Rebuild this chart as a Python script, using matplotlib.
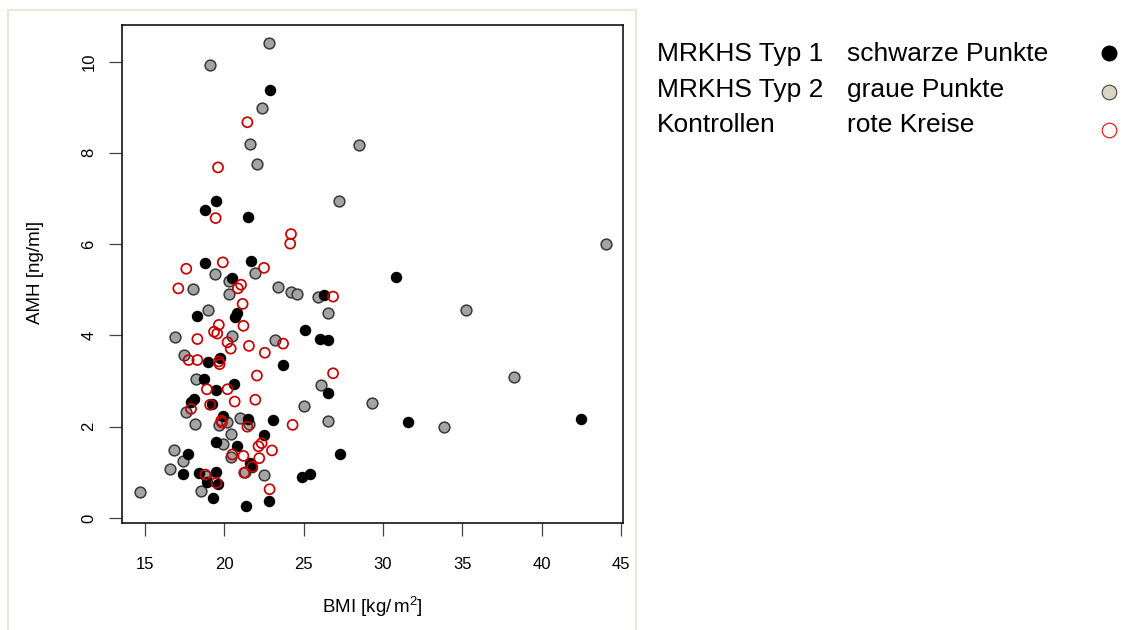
import matplotlib

matplotlib.use("Agg")
import matplotlib.pyplot as plt
from matplotlib.patches import Rectangle

plt.rcParams["font.family"] = ["Liberation Sans", "DejaVu Sans"]
plt.rcParams["mathtext.fontset"] = "custom"
plt.rcParams["mathtext.rm"] = "Liberation Sans"
plt.rcParams["mathtext.it"] = "Liberation Sans:italic"

# MRKHS Typ 1 (schwarze Punkte)
bmi_typ1 = [22.9, 19.5, 18.8, 21.5, 21.7, 18.8, 20.5, 26.3, 30.8, 20.8,
            20.65, 18.3, 25.1, 26.0, 26.5, 19.0, 19.7, 23.7, 18.7, 19.5,
            20.6, 26.5, 18.1, 17.9, 19.2, 19.9, 21.5, 23.05, 22.5, 21.6,
            21.75, 27.3, 24.9, 25.4, 21.35, 22.8, 19.45, 20.8, 17.7, 17.4,
            18.4, 19.5, 18.9, 19.6, 19.3, 31.55, 42.45]
amh_typ1 = [9.37, 6.95, 6.74, 6.59, 5.64, 5.58, 5.26, 4.89, 5.29, 4.50,
            4.40, 4.43, 4.11, 3.93, 3.90, 3.42, 3.50, 3.35, 3.05, 2.80,
            2.94, 2.74, 2.61, 2.54, 2.50, 2.23, 2.16, 2.15, 1.81, 1.20,
            1.12, 1.40, 0.89, 0.96, 0.27, 0.37, 1.66, 1.58, 1.40, 0.96,
            0.98, 1.00, 0.79, 0.75, 0.43, 2.10, 2.17]

# MRKHS Typ 2 (graue Punkte)
bmi_typ2 = [22.8, 19.1, 22.35, 21.6, 22.05, 28.5, 27.25, 21.9, 19.4, 20.3,
            23.4, 24.2, 24.55, 25.9, 26.55, 18.05, 20.3, 19.0, 23.2, 16.9,
            20.5, 17.45, 18.2, 26.1, 25.0, 26.5, 21.0, 17.6, 18.15, 19.65,
            20.15, 21.55, 20.4, 19.9, 16.8, 20.4, 17.4, 16.6, 18.85, 21.3,
            22.5, 18.55, 14.7, 44.05, 35.2, 38.25, 29.3, 33.85]
amh_typ2 = [10.40, 9.93, 8.99, 8.19, 7.76, 8.17, 6.95, 5.37, 5.35, 5.20,
            5.05, 4.94, 4.91, 4.85, 4.50, 5.02, 4.91, 4.56, 3.89, 3.96,
            3.99, 3.58, 3.05, 2.92, 2.46, 2.12, 2.20, 2.32, 2.06, 2.03,
            2.11, 2.06, 1.85, 1.62, 1.50, 1.34, 1.25, 1.07, 0.93, 1.01,
            0.95, 0.59, 0.56, 6.01, 4.56, 3.09, 2.52, 2.00]

# Kontrollen (rote Kreise)
bmi_ctrl = [21.45, 19.6, 19.45, 24.2, 24.15, 22.5, 19.9, 17.6, 21.05, 20.85,
            17.1, 26.85, 21.15, 21.2, 23.7, 21.55, 19.65, 19.35, 19.55, 18.3,
            20.2, 20.4, 22.55, 17.75, 18.3, 19.65, 19.7, 26.85, 22.05, 21.95,
            18.9, 20.2, 20.65, 19.1, 17.9, 19.8, 19.85, 21.45, 24.3, 22.35,
            22.15, 23.0, 21.2, 22.2, 20.5, 21.75, 21.25, 18.8, 19.5, 22.85]
amh_ctrl = [8.67, 7.68, 6.57, 6.22, 6.01, 5.48, 5.60, 5.46, 5.11, 5.03,
            5.03, 4.85, 4.69, 4.21, 3.82, 3.77, 4.23, 4.08, 4.04, 3.92,
            3.85, 3.71, 3.62, 3.46, 3.46, 3.43, 3.37, 3.17, 3.12, 2.59,
            2.82, 2.82, 2.55, 2.48, 2.39, 2.13, 2.09, 2.00, 2.04, 1.64,
            1.57, 1.48, 1.36, 1.31, 1.39, 1.12, 0.99, 0.95, 0.77, 0.63]

legend_groups = ["MRKHS Typ 1", "MRKHS Typ 2", "Kontrollen"]
legend_desc = ["schwarze Punkte", "graue Punkte", "rote Kreise"]

W, H = 1121, 630
fig = plt.figure(figsize=(W / 100, H / 100), dpi=100)

# heller Rahmen um die Grafik
fig.patches.append(Rectangle((8 / W, -0.05), 628 / W, 1.05 - 10 / H,
                             transform=fig.transFigure, fill=False,
                             edgecolor="#E9E7DA", linewidth=1.6))

ax = fig.add_axes([122 / W, 1 - 523 / H, 501 / W, 498 / H])
ax.scatter(bmi_typ2, amh_typ2, s=60, facecolor="#A4A4A4",
           edgecolor="#383838", linewidth=1.1, zorder=2)
ax.scatter(bmi_typ1, amh_typ1, s=68, color="black", linewidth=0, zorder=3)
ax.scatter(bmi_ctrl, amh_ctrl, s=52, facecolor="none",
           edgecolor="#CC0000", linewidth=1.25, zorder=4)

ax.set_xlim(13.55, 45.12)
ax.set_ylim(-0.11, 10.8)
ax.set_xticks(range(15, 46, 5))
ax.set_yticks(range(0, 11, 2))
for sp in ax.spines.values():
    sp.set_linewidth(1.1)
ax.tick_params(axis="both", direction="out", length=9.5, width=0.9,
               color="#444444", labelsize=12)
ax.tick_params(axis="x", pad=15)
ax.tick_params(axis="y", pad=9)
for lab in ax.get_yticklabels():
    lab.set_rotation(90)
    lab.set_va("center")

fig.text(372 / W, 1 - 607 / H, r"BMI $[\mathrm{kg}/\,\mathrm{m}^2]$",
         ha="center", va="center", fontsize=13.5)
fig.text(35 / W, 1 - 272 / H, "AMH [ng/ml]", rotation=90,
         ha="center", va="center", fontsize=13.5)

# Legende rechts
baselines = [61, 97, 132]
marker_y = [53, 92, 130]
for g, d, yb in zip(legend_groups, legend_desc, baselines):
    fig.text(657 / W, 1 - yb / H, g, fontsize=19, va="baseline")
    fig.text(847 / W, 1 - yb / H, d, fontsize=19, va="baseline")

lx = 1109 / W
fig.add_artist(plt.Line2D([lx], [1 - marker_y[0] / H], marker="o",
                          markersize=10.5, color="black",
                          transform=fig.transFigure))
fig.add_artist(plt.Line2D([lx], [1 - marker_y[1] / H], marker="o",
                          markersize=10.5, markerfacecolor="#D9D5C3",
                          markeredgecolor="#444444", markeredgewidth=0.8,
                          transform=fig.transFigure))
fig.add_artist(plt.Line2D([lx], [1 - marker_y[2] / H], marker="o",
                          markersize=10.5, markerfacecolor="none",
                          markeredgecolor="#FF0000", markeredgewidth=0.8,
                          transform=fig.transFigure))

fig.savefig("out.png", dpi=100)
